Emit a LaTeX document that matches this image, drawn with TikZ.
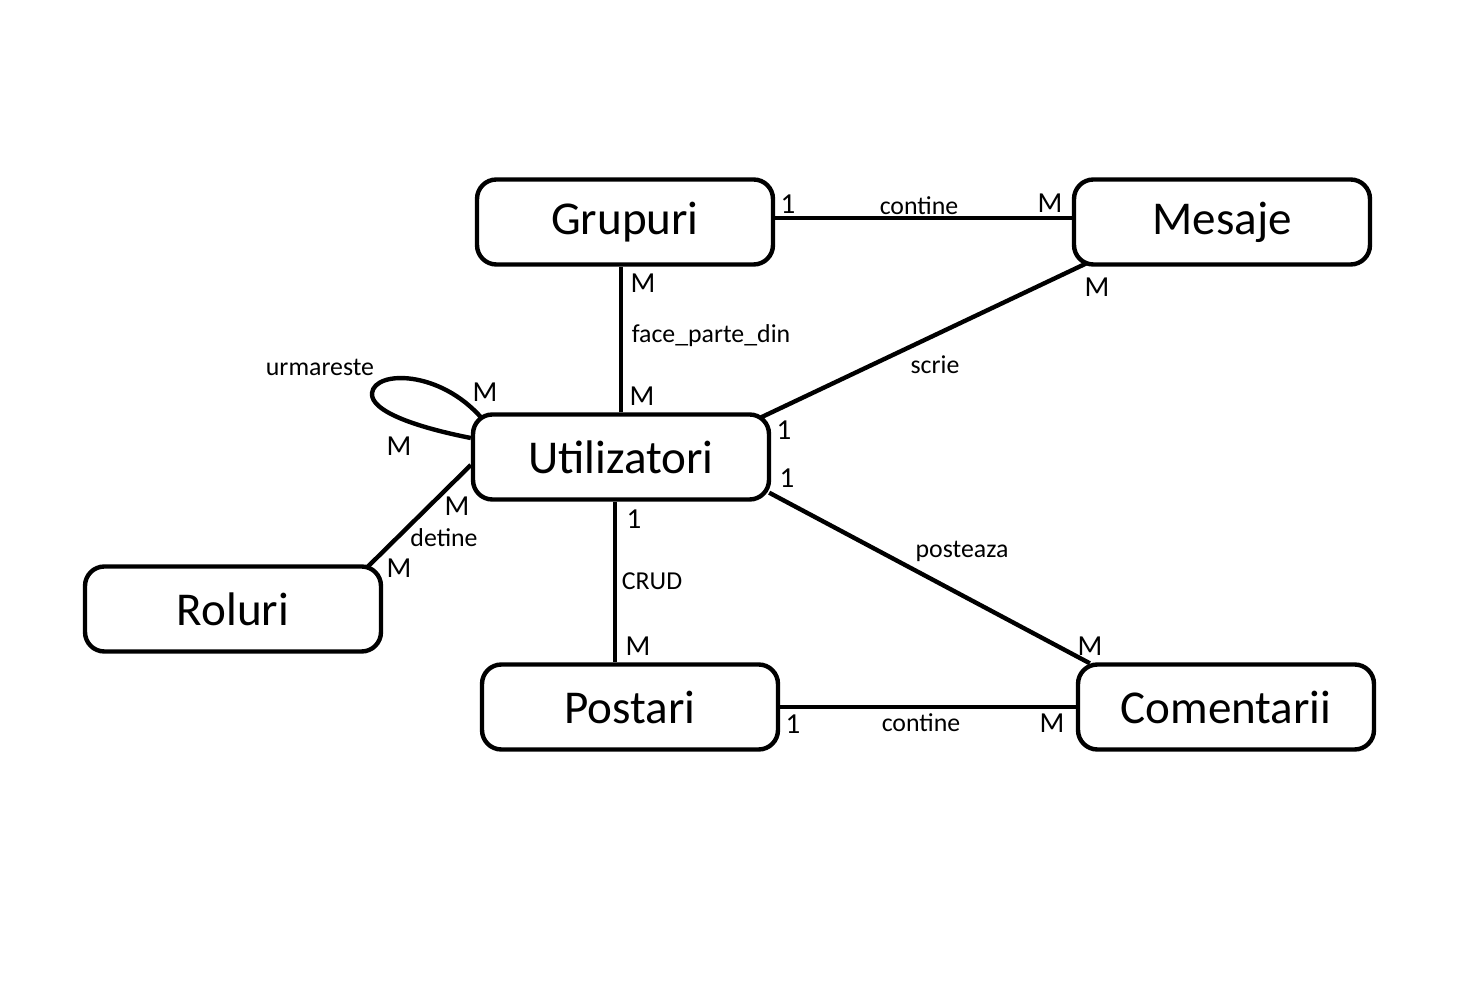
\documentclass[tikz,border=0pt]{standalone}
\usepackage{fontspec}
\setmainfont{Carlito}
\usetikzlibrary{positioning,calc}

\begin{document}
\begin{tikzpicture}[
      x=0.02cm, y=-0.02cm,
      ent/.style={draw,line width=2.5pt,rounded corners=11pt,minimum width=5.92cm,minimum height=1.7cm,inner sep=0pt,font=\fontsize{26.8}{30}\selectfont},
      lbl/.style={inner sep=0pt,font=\fontsize{14.7}{17}\selectfont},
      card/.style={inner sep=0pt,font=\fontsize{16.5}{19}\selectfont},
      conn/.style={line width=2.5pt},
    ]
    \useasboundingbox (0,0) rectangle (1464,982);

    % Entities
    \node[ent] (grp) at (625,222) {Grupuri};
    \node[ent] (mes) at (1222,222) {Mesaje};
    \node[ent] (utl) at (621,457) {Utilizatori};
    \node[ent] (rol) at (233,609) {Roluri};
    \node[ent] (pst) at (630,707) {Postari};
    \node[ent] (com) at (1226,707) {Comentarii};

    % Grupuri - Mesaje
    \draw[conn] ($(grp.east)+(0,-4)$) -- ($(mes.west)+(0,-4)$);
    \node[card] (cGM1) at (788,204) {1};
    \node[lbl] (lGM) at (919,206) {contine};
    \node[card] (cGM2) at (1050,203) {M};

    % Grupuri - Utilizatori
    \draw[conn] (utl.north) -- (utl.north |- grp.south);
    \node[card] (cGU1) at (643,283) {M};
    \node[lbl] (lGU) at (711,336) {face\_parte\_din};
    \node[card] (cGU2) at (642,396) {M};

    % Mesaje - Utilizatori
    \draw[conn] ($(mes.south west)+(16,-4)$) -- ($(utl.north east)+(-10,5)$);
    \node[card] (cMU1) at (1097,287) {M};
    \node[lbl] (lMU) at (935,365) {scrie};
    \node[card] (cMU2) at (784,430) {1};

    % Utilizatori - Comentarii
    \draw[conn] ($(utl.south east)+(-2,-9)$) -- ($(com.north west)+(14,1)$);
    \node[card] (cUC1) at (787,478) {1};
    \node[lbl] (lUC) at (962,551) {posteaza};
    \node[card] (cUC2) at (1090,646) {M};

    % Utilizatori - Postari
    \coordinate (utlS) at ($(utl.south)+(-6,0)$);
    \draw[conn] (utlS) -- (utlS |- pst.north);
    \node[card] (cUP1) at (634,519) {1};
    \node[lbl] (lUP) at (652,581) {CRUD};
    \node[card] (cUP2) at (638,646) {M};

    % Postari - Comentarii
    \draw[conn] (pst.east) -- (com.west);
    \node[card] (cPC1) at (793,724) {1};
    \node[lbl] (lPC) at (921,723) {contine};
    \node[card] (cPC2) at (1052,723) {M};

    % Utilizatori - Roluri
    \draw[conn] ($(utl.west)+(0,8)$) -- ($(rol.north east)+(-17,4)$);
    \node[card] (cUR1) at (457,506) {M};
    \node[lbl] (lUR) at (444,538) {detine};
    \node[card] (cUR2) at (399,568) {M};

    % urmareste (self loop)
    \draw[conn] ($(utl.west)+(0,-19)$) .. controls (420,428) and (370,412) .. (372,393)
      .. controls (375,370) and (440,370) .. ($(utl.north west)+(11,6)$);
    \node[lbl] (lUU) at (320,367) {urmareste};
    \node[card] (cUU1) at (485,392) {M};
    \node[card] (cUU2) at (399,446) {M};
  \end{tikzpicture}
\end{document}
